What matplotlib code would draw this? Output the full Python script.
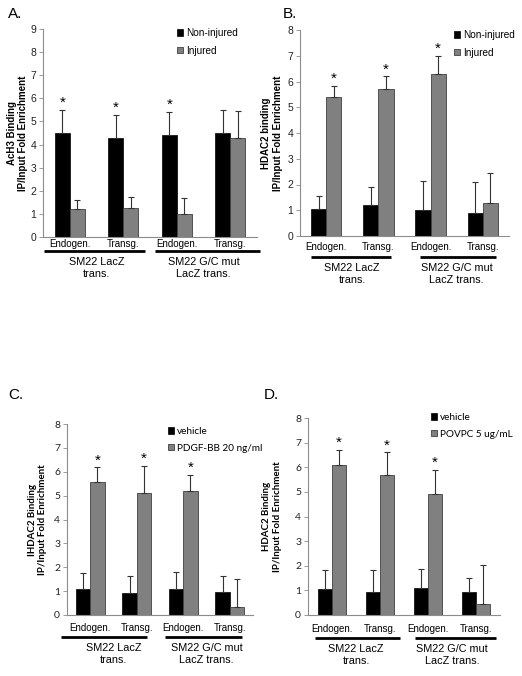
import matplotlib.pyplot as plt
import numpy as np
from matplotlib.patches import Patch
from matplotlib.transforms import offset_copy

plt.rcParams['font.family'] = 'Liberation Sans'

W, H = 522, 676
cats = ['Endogen.', 'Transg.', 'Endogen.', 'Transg.']
groups = ['SM22 LacZ\ntrans.', 'SM22 G/C mut\nLacZ trans.']

# A. AcH3 binding, non-injured vs injured
a_ctrl = [4.5, 4.3, 4.4, 4.5]
a_ctrl_err = [1.0, 1.0, 1.0, 1.0]
a_trt = [1.2, 1.25, 1.0, 4.3]
a_trt_err = [0.42, 0.5, 0.7, 1.15]

# B. HDAC2 binding, non-injured vs injured
b_ctrl = [1.05, 1.2, 1.0, 0.9]
b_ctrl_err = [0.5, 0.7, 1.15, 1.2]
b_trt = [5.4, 5.7, 6.3, 1.3]
b_trt_err = [0.43, 0.5, 0.7, 1.15]

# C. HDAC2 binding, vehicle vs PDGF-BB
c_ctrl = [1.07, 0.93, 1.1, 0.95]
c_ctrl_err = [0.7, 0.7, 0.7, 0.7]
c_trt = [5.55, 5.12, 5.18, 0.35]
c_trt_err = [0.63, 1.13, 0.7, 1.15]

# D. HDAC2 binding, vehicle vs POVPC
d_ctrl = [1.07, 0.93, 1.1, 0.95]
d_ctrl_err = [0.75, 0.9, 0.75, 0.55]
d_trt = [6.1, 5.7, 4.9, 0.45]
d_trt_err = [0.6, 0.9, 1.0, 1.6]

fig = plt.figure(figsize=(W / 100, H / 100), dpi=100)


def box(l, r, y0, ytop):
    return [l / W, 1 - y0 / H, (r - l) / W, (y0 - ytop) / H]


def panel(rect, ymax, ctrl, ctrl_err, trt, trt_err, star_on, bw,
          legend_lbls, legend_xy, ylab, ylab_x, tickfont, offs, glines):
    ax = fig.add_axes(rect)
    x = np.arange(len(cats))
    ax.bar(x - bw / 2, ctrl, bw, color='black', edgecolor='black', lw=0.5, zorder=2)
    ax.bar(x + bw / 2, trt, bw, color='#808080', edgecolor='#404040', lw=0.6, zorder=2)
    z = np.zeros(len(cats))
    ax.errorbar(x - bw / 2, ctrl, yerr=[z, ctrl_err], fmt='none', ecolor='#333333',
                elinewidth=0.8, capsize=2.4, capthick=0.8, zorder=3)
    ax.errorbar(x + bw / 2, trt, yerr=[z, trt_err], fmt='none', ecolor='#333333',
                elinewidth=0.8, capsize=2.4, capthick=0.8, zorder=3)
    vals = ctrl if star_on == 'ctrl' else trt
    errs = ctrl_err if star_on == 'ctrl' else trt_err
    xs = x - bw / 2 if star_on == 'ctrl' else x + bw / 2
    for i in range(3):
        ax.annotate('*', (xs[i], vals[i] + errs[i]), xytext=(0, 5),
                    textcoords='offset points', ha='center', va='center', fontsize=11)

    ax.set_xlim(-0.5, 3.5)
    ax.set_ylim(0, ymax)
    ax.set_yticks(range(ymax + 1))
    ax.set_xticks([])
    for s in ['top', 'right']:
        ax.spines[s].set_visible(False)
    for s in ['left', 'bottom']:
        ax.spines[s].set_color('#8c8c8c')
        ax.spines[s].set_linewidth(0.8)
    ax.tick_params(axis='y', length=3, width=0.6, color='#8c8c8c', pad=2,
                   labelsize=7.5, labelcolor='#222222')
    for t in ax.get_yticklabels():
        t.set_family(tickfont)

    cat_off, line_off, grp_off = offs
    tr = ax.get_xaxis_transform()
    for i, c in enumerate(cats):
        ax.text(i, 0, c, transform=offset_copy(tr, fig=fig, y=-cat_off, units='dots'),
                ha='center', va='center', fontsize=7)
    for (g0, g1), gc, g in zip(glines, [0.5, 2.5], groups):
        ax.plot([g0, g1], [0, 0], color='black', lw=2, solid_capstyle='butt',
                transform=offset_copy(tr, fig=fig, y=-line_off, units='dots'), clip_on=False)
        ax.text(gc, 0, g, transform=offset_copy(tr, fig=fig, y=-grp_off, units='dots'),
                ha='center', va='top', fontsize=7.8, linespacing=1.25)

    handles = [Patch(facecolor='black', edgecolor='black', lw=0.5),
               Patch(facecolor='#808080', edgecolor='#404040', lw=0.6)]
    ax.legend(handles, legend_lbls, loc='upper left',
              bbox_to_anchor=(legend_xy[0] / W, 1 - legend_xy[1] / H),
              bbox_transform=fig.transFigure, frameon=False, borderpad=0,
              handlelength=0.6, handleheight=0.6, handletextpad=0.3,
              labelspacing=0.78, prop={'family': tickfont, 'size': 7.2})

    y_mid = rect[1] + rect[3] / 2
    fig.text(ylab_x / W, y_mid, ylab, rotation=90, ha='center', va='center',
             fontsize=7, fontweight='bold', family=tickfont, multialignment='center',
             linespacing=1.2)
    return ax


panel(box(43, 257, 237, 29), 9, a_ctrl, a_ctrl_err, a_trt, a_trt_err, 'ctrl', 0.28,
      ['Non-injured', 'Injured'], (172, 23),
      'AcH3 Binding\nIP/Input Fold Enrichment', 17.5, 'Liberation Sans',
      (7, 14, 20), [(-0.48, 1.41), (1.59, 3.55)])

panel(box(300, 509, 236, 30), 8, b_ctrl, b_ctrl_err, b_trt, b_trt_err, 'trt', 0.29,
      ['Non-injured', 'Injured'], (449, 25),
      'HDAC2 binding\nIP/Input Fold Enrichment', 272, 'Liberation Sans',
      (11, 21, 27), [(-0.29, 1.24), (1.8, 3.25)])

panel(box(67, 253, 615, 424), 8, c_ctrl, c_ctrl_err, c_trt, c_trt_err, 'trt', 0.31,
      ['vehicle', 'PDGF-BB 20 ng/ml'], (163, 422),
      'IHDAC2 Binding\nIP/Input Fold Enrichment', 37.5, 'Lato',
      (13, 22, 28), [(-0.63, 1.22), (1.61, 3.26)])

panel(box(308, 500, 615, 418), 8, d_ctrl, d_ctrl_err, d_trt, d_trt_err, 'trt', 0.3,
      ['vehicle', 'POVPC 5 ug/mL'], (426, 408),
      'HDAC2 Binding\nIP/Input Fold Enrichment', 272, 'Lato',
      (14, 23, 29), [(-0.35, 1.42), (1.73, 3.42)])

for lbl, x, y in [('A.', 8, 14), ('B.', 283, 14), ('C.', 8, 395), ('D.', 264, 395)]:
    fig.text(x / W, 1 - y / H, lbl, ha='left', va='center', fontsize=11)

fig.savefig('out.png', dpi=100)
